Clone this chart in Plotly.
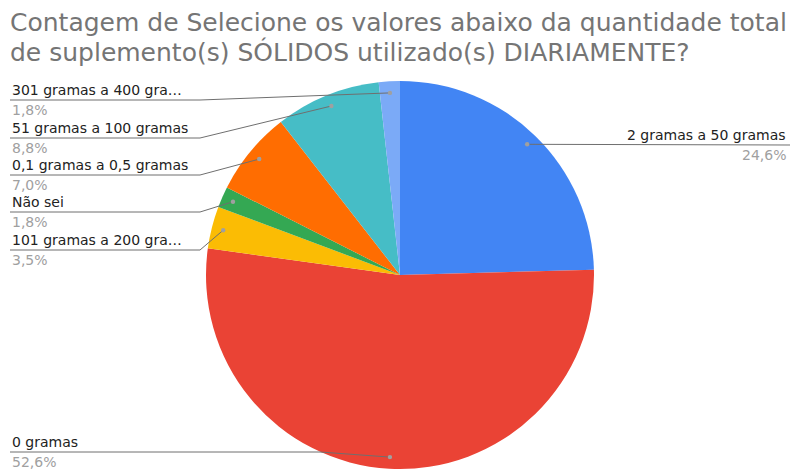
import math
import plotly.graph_objects as go

# Survey answers (daily total of solid supplements) and their response counts
categories = [
    "2 gramas a 50 gramas",
    "0 gramas",
    "101 gramas a 200 gra…",
    "Não sei",
    "0,1 gramas a 0,5 gramas",
    "51 gramas a 100 gramas",
    "301 gramas a 400 gra…",
]
counts = [14, 30, 2, 1, 4, 5, 1]
colors = ["#4285F4", "#EA4335", "#FBBC04", "#34A853", "#FF6D01", "#46BDC6", "#7BAAF7"]

title_lines = [
    "Contagem de Selecione os valores abaixo da quantidade total",
    "de suplemento(s) SÓLIDOS utilizado(s) DIARIAMENTE?",
]

# Page geometry (pixels)
W, H = 790, 470
CX, CY, R = 400, 275, 194
FONT = "DejaVu Sans"

# Label placement: which side, y of the underline, and x where the leader bends
label_side = ["right", "left", "left", "left", "left", "left", "left"]
label_line_y = [145, 452, 250, 212, 175, 138, 100]
label_elbow_x = [560, 320, 200, 200, 200, 200, 200]

total = sum(counts)
fig = go.Figure()

fig.add_trace(go.Pie(
    labels=categories,
    values=counts,
    sort=False,
    direction="clockwise",
    rotation=0,
    marker=dict(colors=colors, line=dict(width=0)),
    textinfo="none",
    hoverinfo="label+percent",
    showlegend=False,
    domain=dict(x=[(CX - R) / W, (CX + R) / W], y=[(H - CY - R) / H, (H - CY + R) / H]),
))

# Invisible pixel-space axes used to place leaders and labels
fig.update_xaxes(range=[0, W], visible=False, fixedrange=True)
fig.update_yaxes(range=[H, 0], visible=False, fixedrange=True)

shapes = []
annotations = []
cum = 0
for cat, cnt, side, ly, ex in zip(categories, counts, label_side, label_line_y, label_elbow_x):
    mid = (cum + cnt / 2) / total * 2 * math.pi
    cum += cnt
    rr = 0.94 * R
    dx = CX + rr * math.sin(mid)
    dy = CY - rr * math.cos(mid)
    pct = f"{100 * cnt / total:.1f}%".replace(".", ",")
    if side == "right":
        end_x = W
        path = f"M {dx:.1f} {dy:.1f} L {end_x} {ly}"
        tx, anchor = W - 2, "right"
    else:
        end_x = 10
        path = f"M {dx:.1f} {dy:.1f} L {ex} {ly} L {end_x} {ly}"
        tx, anchor = 10, "left"
    shapes.append(dict(type="path", path=path, xref="x", yref="y", layer="above",
                       line=dict(color="#6f6f6f", width=1)))
    shapes.append(dict(type="circle", xref="x", yref="y", layer="above",
                       x0=dx - 2.2, x1=dx + 2.2, y0=dy - 2.2, y1=dy + 2.2,
                       fillcolor="#a0a0a0", line=dict(width=0)))
    annotations.append(dict(x=tx, y=ly, xref="x", yref="y", text=cat, showarrow=False,
                            xanchor=anchor, yanchor="bottom",
                            font=dict(family=FONT, size=14, color="#222222")))
    annotations.append(dict(x=tx, y=ly, xref="x", yref="y", text=pct, showarrow=False,
                            xanchor=anchor, yanchor="top",
                            font=dict(family=FONT, size=14, color="#a0a0a0")))

for i, line in enumerate(title_lines):
    annotations.append(dict(x=8, y=22 + 30 * i, xref="x", yref="y", text=line, showarrow=False,
                            xanchor="left", yanchor="middle",
                            font=dict(family=FONT, size=25, color="#757575")))

fig.update_layout(
    width=W, height=H,
    margin=dict(l=0, r=0, t=0, b=0),
    paper_bgcolor="white", plot_bgcolor="white",
    shapes=shapes, annotations=annotations,
)

fig.write_html("out.html")
